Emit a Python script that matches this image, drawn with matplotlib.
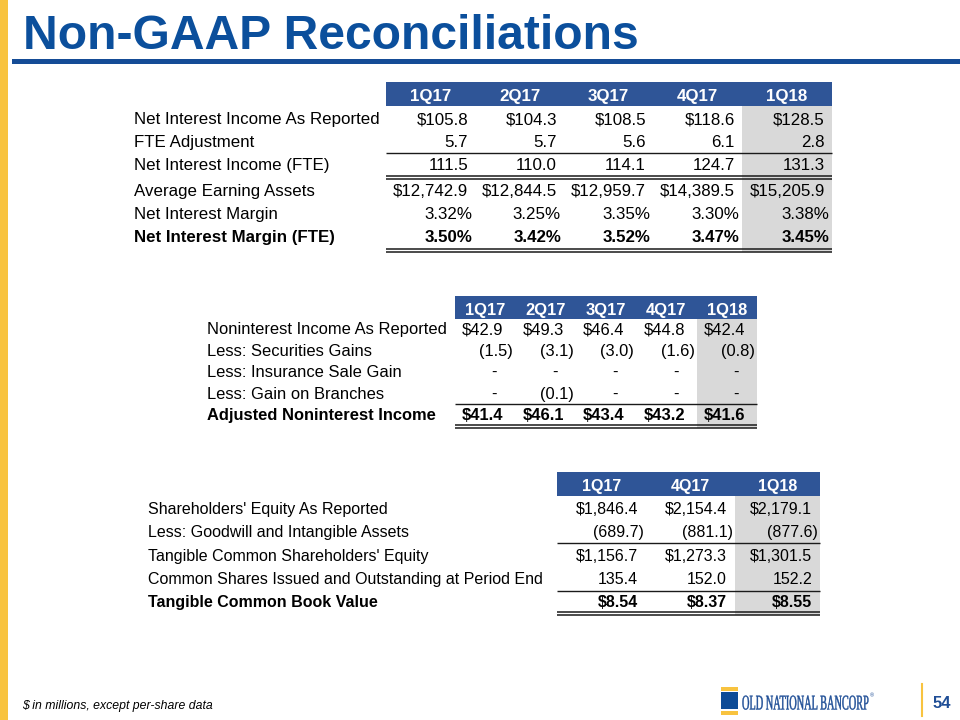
import matplotlib
matplotlib.use("Agg")
import matplotlib.pyplot as plt
from matplotlib.patches import Rectangle, PathPatch
from matplotlib.textpath import TextPath
from matplotlib.font_manager import FontProperties
from matplotlib.transforms import Affine2D

# ---- data ----
t1_cols = ["1Q17", "2Q17", "3Q17", "4Q17", "1Q18"]
t1_labels = ["Net Interest Income As Reported", "FTE Adjustment", "Net Interest Income (FTE)",
             "Average Earning Assets", "Net Interest Margin", "Net Interest Margin (FTE)"]
nii_reported = [105.8, 104.3, 108.5, 118.6, 128.5]
fte_adjustment = [5.7, 5.7, 5.6, 6.1, 2.8]
nii_fte = [111.5, 110.0, 114.1, 124.7, 131.3]
avg_earning_assets = [12742.9, 12844.5, 12959.7, 14389.5, 15205.9]
nim = [3.32, 3.25, 3.35, 3.30, 3.38]
nim_fte = [3.50, 3.42, 3.52, 3.47, 3.45]

t2_cols = ["1Q17", "2Q17", "3Q17", "4Q17", "1Q18"]
t2_labels = ["Noninterest Income As Reported", "Less: Securities Gains", "Less: Insurance Sale Gain",
             "Less: Gain on Branches", "Adjusted Noninterest Income"]
nonint_reported = [42.9, 49.3, 46.4, 44.8, 42.4]
securities_gains = [-1.5, -3.1, -3.0, -1.6, -0.8]
insurance_gain = [0, 0, 0, 0, 0]
branch_gain = [0, -0.1, 0, 0, 0]
adj_nonint = [41.4, 46.1, 43.4, 43.2, 41.6]

t3_cols = ["1Q17", "4Q17", "1Q18"]
t3_labels = ["Shareholders' Equity As Reported", "Less: Goodwill and Intangible Assets",
             "Tangible Common Shareholders' Equity", "Common Shares Issued and Outstanding at Period End",
             "Tangible Common Book Value"]
equity_reported = [1846.4, 2154.4, 2179.1]
goodwill = [-689.7, -881.1, -877.6]
tangible_equity = [1156.7, 1273.3, 1301.5]
shares_out = [135.4, 152.0, 152.2]
tangible_bv = [8.54, 8.37, 8.55]

# ---- style ----
HEADER = "#2F5597"
BLUE = "#0B4F9C"
GRAY = "#D9D9D9"
GOLD = "#F8C33F"
LINE = "#1A1A1A"

plt.rcParams["font.family"] = ["Liberation Sans", "DejaVu Sans"]

fig = plt.figure(figsize=(9.6, 7.2), dpi=100)
ax = fig.add_axes([0, 0, 1, 1])
ax.set_xlim(0, 960)
ax.set_ylim(720, 0)
ax.axis("off")


def fmt(v, prefix="", dec=1, suffix=""):
    if v == 0:
        return "-"
    s = prefix + f"{abs(v):,.{dec}f}" + suffix
    return f"({s})" if v < 0 else s


def hline(x0, x1, y, double=False):
    if double:
        ax.plot([x0, x1], [y - 1.6, y - 1.6], color=LINE, lw=1.1, solid_capstyle="butt")
        ax.plot([x0, x1], [y + 1.6, y + 1.6], color=LINE, lw=1.1, solid_capstyle="butt")
    else:
        ax.plot([x0, x1], [y, y], color=LINE, lw=1.0, solid_capstyle="butt")


def draw_table(cols, labels, rows, bold, label_x, edges, head, row_ys, lines, fs, pad, dash_off):
    x0, x1 = edges[0], edges[-1]
    ax.add_patch(Rectangle((x0, head[0]), x1 - x0, head[1] - head[0], color=HEADER, lw=0))
    gray_bot = lines[-1][0] + 1.6
    ax.add_patch(Rectangle((edges[-2], head[1]), edges[-1] - edges[-2], gray_bot - head[1],
                           color=GRAY, lw=0, zorder=0))
    for j, c in enumerate(cols):
        ax.text((edges[j] + edges[j + 1]) / 2, (head[0] + head[1]) / 2 + 1, c, color="white",
                weight="bold", ha="center", va="center_baseline", fontsize=fs)
    for i, (lab, vals) in enumerate(zip(labels, rows)):
        w = "bold" if i in bold else "normal"
        y = row_ys[i]
        ax.text(label_x, y, lab, ha="left", va="center_baseline", fontsize=fs, weight=w)
        for j, s in enumerate(vals):
            r = edges[j + 1]
            if s == "-":
                ax.text(r - dash_off, y, s, ha="center", va="center_baseline", fontsize=fs, weight=w)
                continue
            if s.startswith("("):
                x = r - 2
            elif s.endswith("%"):
                x = r - 3
            else:
                x = r - pad
            ax.text(x, y, s, ha="right", va="center_baseline", fontsize=fs, weight=w)
    for y, dbl in lines:
        hline(x0, x1, y, dbl)


# ---- frame ----
ax.add_patch(Rectangle((0, 0), 8, 720, color=GOLD, lw=0))
ax.text(23, 49, "Non-GAAP Reconciliations", color=BLUE, weight="bold", fontsize=34.6,
        ha="left", va="baseline")
ax.add_patch(Rectangle((12, 59), 948, 4.5, color="#154C96", lw=0))

# ---- table 1 ----
t1_rows = [
    [fmt(v, "$") for v in nii_reported],
    [fmt(v) for v in fte_adjustment],
    [fmt(v) for v in nii_fte],
    [fmt(v, "$") for v in avg_earning_assets],
    [fmt(v, dec=2, suffix="%") for v in nim],
    [fmt(v, dec=2, suffix="%") for v in nim_fte],
]
t1_edges = [386, 475, 564, 653, 742, 832]
t1_ys = [118 + 23.2 * i + (2 if i >= 3 else 0) for i in range(6)]
draw_table(t1_cols, t1_labels, t1_rows, {5}, 134, t1_edges, (82, 106), t1_ys,
           [(153, False), (177.5, True), (250.5, True)], 12.2, 7, 20)

# ---- table 2 ----
t2_rows = [
    [fmt(v, "$") for v in nonint_reported],
    [fmt(v) for v in securities_gains],
    [fmt(v) for v in insurance_gain],
    [fmt(v) for v in branch_gain],
    [fmt(v, "$") for v in adj_nonint],
]
t2_edges = [455, 515, 576, 636, 697, 757]
t2_ys = [328 + 21.6 * i for i in range(5)]
draw_table(t2_cols, t2_labels, t2_rows, {4}, 207, t2_edges, (296, 319), t2_ys,
           [(403.5, False), (426.5, True)], 11.9, 12, 21)

# ---- table 3 ----
t3_rows = [
    [fmt(v, "$") for v in equity_reported],
    [fmt(v) for v in goodwill],
    [fmt(v, "$") for v in tangible_equity],
    [fmt(v) for v in shares_out],
    [fmt(v, "$", dec=2) for v in tangible_bv],
]
t3_edges = [557, 646, 735, 820]
t3_ys = [508 + 23.3 * i for i in range(5)]
draw_table(t3_cols, t3_labels, t3_rows, {4}, 148, t3_edges, (472, 496), t3_ys,
           [(543, False), (590.5, False), (613.5, True)], 11.5, 8, 20)

# ---- footer ----
ax.text(22, 704, "$ in millions, except per-share data", style="italic", fontsize=8.8,
        ha="left", va="center_baseline")

# logo mark
ax.add_patch(Rectangle((721, 687), 17, 3.5, color=GOLD, lw=0))
ax.add_patch(Rectangle((721, 692), 17, 17, color="#0E4C97", lw=0))
ax.add_patch(Rectangle((721, 711), 17, 3.5, color=GOLD, lw=0))
tp = TextPath((0, 0), "OLD NATIONAL BANCORP", size=21, prop=FontProperties(family="Liberation Serif"))
bb = tp.get_extents()
sx = 126 / bb.width
ax.add_patch(PathPatch(tp, transform=Affine2D().scale(sx, -1).translate(742, 709.5) + ax.transData,
                       color="#1F4E96", lw=0.3))
ax.text(870, 696, "®", fontsize=4, color="#1F4E96", ha="left", va="center")
ax.plot([922, 922], [684, 716], color=GOLD, lw=1.5)
ax.text(933, 702, "54", color="#1F4E96", weight="bold", fontsize=12, ha="left", va="center_baseline")

fig.savefig("out.png", dpi=100)
